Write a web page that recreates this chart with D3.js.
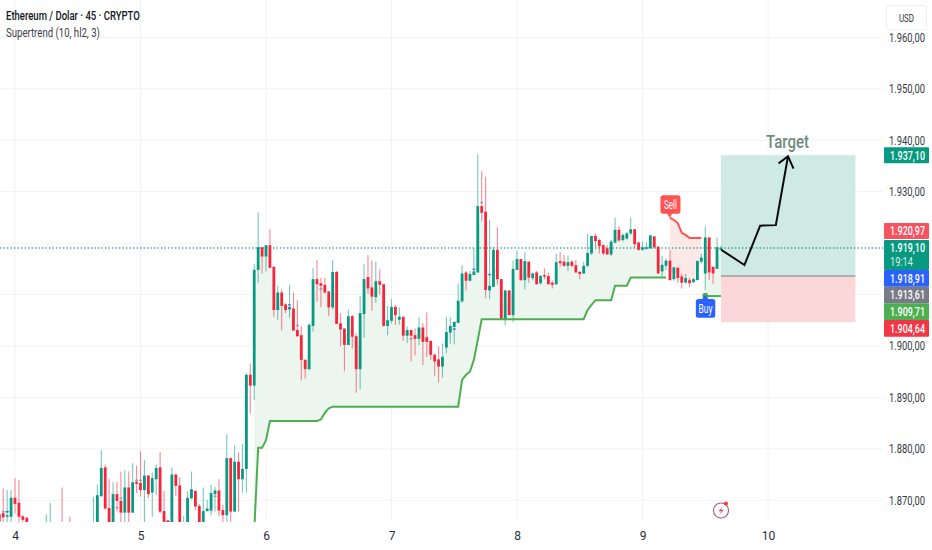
<!DOCTYPE html>
<html><head><meta charset="utf-8">
<script src="https://cdn.jsdelivr.net/npm/d3@7/dist/d3.min.js"></script>
<style>html,body{margin:0;padding:0;background:#fff}svg{display:block}text{font-family:Roboto,"Liberation Sans",sans-serif}</style>
</head><body><div id="c"></div>
<script>
const firstBar = -4;
const opens = [1867.3,1867.5,1866.8,1866.8,1870.5,1869.5,1866.9,1866.6,1863,1862,
1861,1862,1862,1862,1864,1862,1864,1862,1864,1862,
1861,1862,1860.5,1862,
1862,1864,1870.8,1876.4,1868.5,1864,1871.2,1869.9,1867.6,1872.5,
1867.6,1873.6,1873.4,1872,1874.8,1871.5,1874.1,1876.4,1867.9,1866.1,
1864,1875,1872.9,1864,1864,1870.4,1871.8,1868.9,1864,1867.9,
1868,1871.2,1871.9,1868.1,1867.1,1878.2,1867.8,1877.5,1874.1,1876.1,
1894.4,1892.3,1914.8,1919.2,1917.4,1919.6,1915.4,1907,1910.4,1908.1,
1907.1,1907.3,1903.1,1902.1,1897.3,1895.5,1903.9,1913,1912.2,1911.9,
1910.6,1907.5,1914.4,1904.4,1903.4,1900.2,1905.8,1901.9,1895.5,1906.2,
1913.4,1911.4,1909.5,1912.6,1912,1903.9,1904.9,1907.6,1905.1,1905.7,
1902,1903.1,1902.1,1901.4,1903.6,1901.7,1901,1898.3,1897.4,1896,
1899.7,1902.6,1903.7,1904.5,1908.7,1914.3,1912.7,1913.8,1914.3,1927.2,
1926.1,1910.8,1911.5,1918.7,1913,1905.1,1910.8,1906,1914.8,1916.9,
1912.8,1916.4,1913.2,1914.3,1912.2,1913.8,1913.6,1912.3,1912,1916.5,
1916.4,1915.6,1916.4,1915.7,1914.4,1914.1,1915.6,1918,1921.4,1920.6,
1919.6,1919,1917.8,1920.1,1922.6,1920.6,1920.9,1921.9,1922.7,1920.1,
1918.7,1918.9,1919,1921.3,1919.3,1914.5,1915.6,1916.6,1913,1915.2,
1913.5,1912.3,1912.8,1912.4,1912.8,1916.4,1914.1,1921.1,1915.4,1915,
1918.7];
const closes = [1865.9,1866.7,1867.1,1870.5,1869.3,1866.8,1866.2,1865.6,1862,1861,
1862,1863,1864,1864,1862,1861,1862,1863,1862,1861,
1862,1860.5,1862,1863,
1864.5,1871,1876.3,1868.4,1865,1871.2,1869.9,1867.6,1872.5,1867.6,
1873.5,1873.2,1872,1874.8,1871.2,1874.3,1876.3,1867.8,1865.8,1864.5,
1875,1872.8,1864,1865.8,1870.5,1872,1868.8,1864,1867.9,1868.4,
1871.4,1871.9,1868,1867.1,1878.2,1867.8,1877.5,1874.1,1876.1,1894.4,
1892.3,1914.8,1919.2,1917.4,1919.6,1915.2,1907,1910.4,1907.8,1907,
1907.6,1903,1901.9,1897.3,1895.5,1904.1,1913,1912,1911.7,1910.4,
1907.5,1914.4,1904.3,1903.2,1900.2,1905.8,1901.8,1895.5,1906.4,1913,
1911.2,1909.6,1912.6,1911.9,1903.9,1905,1907.6,1906,1905.7,1902,
1903.1,1902,1901.4,1903.6,1900.8,1900.8,1898.3,1897,1896,1897.9,
1902.7,1903.9,1904.7,1908.8,1914.1,1912.7,1914,1914.5,1927.2,1925.9,
1910.9,1911.7,1918.7,1913,1905.1,1910.8,1906,1915,1916.9,1912.8,
1916.5,1913.3,1914.1,1912,1913.6,1913.5,1912,1911.9,1916.3,1916.1,
1915.6,1916.3,1915.6,1914.3,1914,1915.6,1918.1,1921.4,1920.4,1919.4,
1918,1917.8,1920.3,1922.6,1920.5,1921.6,1921.9,1922.7,1919.8,1918.7,
1919.2,1919.2,1921.5,1919.2,1914.1,1915.8,1916.6,1912.8,1915.3,1913.2,
1912.3,1913.2,1912.2,1913,1916.5,1917.2,1921.1,1914.3,1914.1,1919.2,
1919.1];
const highs = [1868.1,1872.3,1872,1872,1874.3,1873.9,1867.1,1866.8,1864,1863.5,
1863,1864,1867.3,1869.5,1865,1864,1872.5,1864,1866.8,1864,
1863,1864,1863,1864,
1870.7,1873,1879.8,1876.9,1874.1,1873.5,1873.6,1875.6,1875.9,1875.6,
1877.2,1876.7,1879.5,1877.8,1874.9,1875.4,1876.9,1879.4,1871.8,1866.2,
1876.4,1875.2,1874.5,1866.9,1871.7,1875.6,1872,1869.3,1872.5,1870.1,
1873,1872.6,1874.1,1869.1,1882.8,1878.3,1880.7,1879.3,1880.9,1894.7,
1896.6,1916,1926,1919.2,1919.6,1922.7,1915.4,1911.7,1911,1908.3,
1911.9,1910.4,1908.9,1903.9,1897.4,1904.4,1915.1,1916.7,1913.2,1913.2,
1910.7,1916.7,1914.6,1906.4,1903.4,1907.1,1906,1902.5,1909.7,1916,
1917.7,1916.6,1916.4,1914.9,1912,1907.8,1909.1,1908,1907.5,1905.7,
1903.8,1903.2,1903.4,1905.6,1904.4,1906.5,1901,1898.6,1899.9,1900.5,
1905.6,1905.6,1904.7,1912.2,1915.7,1914.6,1914.6,1919,1937.3,1934,
1932.9,1924.5,1919.2,1923.1,1913,1910.9,1910.8,1916.6,1918.5,1916.9,
1918.3,1916.4,1914.3,1914.6,1913.8,1915.1,1914.3,1912.8,1918,1918.3,
1917.8,1917.6,1916.7,1916.7,1914.6,1916.4,1921.8,1921.4,1921.9,1920.9,
1919.8,1919.6,1920.6,1925,1923.3,1921.9,1922.2,1925,1922.7,1920.3,
1920.3,1920.1,1921.6,1921.4,1919.4,1917.5,1917,1918.7,1915.4,1915.3,
1914.1,1914,1913.2,1913.2,1916.7,1918,1923.3,1921.1,1915.4,1921.1,
1919.5];
const lows = [1863,1862,1862,1864,1867.5,1864,1864,1863,1861,1860,
1860,1861,1861,1861,1861,1860,1861,1860,1861,1860,
1859,1860,1859,1860,
1861,1863,1870.7,1868.2,1864,1863,1867.8,1864,1864,1864,
1867.6,1871.4,1870.7,1864,1870.4,1866.8,1871,1867.5,1864,1863.5,
1863,1870.8,1863,1863,1863,1870.2,1868,1863,1863,1867.8,
1867.1,1867.8,1866.9,1864,1865.9,1864,1867.8,1867.8,1871.5,1871.5,
1886.9,1889.5,1912.3,1914.1,1914.5,1915.1,1905.7,1905,1903,1906.4,
1905.5,1903,1901.8,1893.3,1893.7,1895.3,1902.8,1908.6,1907.6,1910.2,
1905.8,1907.1,1904.3,1899.9,1895.1,1900.2,1899.5,1890.9,1891.6,1901.6,
1910.1,1906.8,1908.4,1910,1903.8,1902.1,1904.4,1904.1,1904.2,1901,
1900.6,1897,1898.2,1900.2,1896.3,1897.9,1897.3,1894.2,1892.9,1893.8,
1898.6,1900.5,1900.3,1904.5,1908.4,1910.8,1912.6,1913.8,1914.3,1924.2,
1909.3,1909.1,1911.5,1911.9,1905,1904,1906,1904.6,1914.8,1912.7,
1911,1912.3,1912.8,1912,1911.9,1913,1912,1911.2,1912,1915.4,
1915.4,1914.6,1915.3,1914.3,1913,1914,1915.3,1917.7,1919.3,1918,
1917.7,1917.7,1917.5,1920,1920.3,1920.3,1920.6,1921.6,1919,1918.5,
1918.5,1918.7,1918.9,1919,1914.1,1913.5,1914.8,1912.8,1912.7,1912.3,
1911.2,1912.2,1911.4,1912.3,1912.8,1916.1,1910.9,1912.8,1912.1,1915,
1918.5];

// Supertrend (10, hl2, 3), bar by bar
const upTrendStart = 61;
const upTrend = [1864,1880.2,1880.2,1881.7,1885.4,
1885.4,1885.4,1885.4,1885.4,1885.4,1885.4,1885.4,1885.4,1885.4,1885.4,1885.4,1885.4,
1885.7,1887,1887.9,
1888.2,1888.2,1888.2,1888.2,1888.2,1888.2,1888.2,1888.2,1888.2,1888.2,1888.2,
1888.2,1888.2,1888.2,1888.2,1888.2,1888.2,1888.2,1888.2,1888.2,1888.2,1888.2,
1888.2,1888.2,1888.2,1888.2,1888.2,1888.2,1888.2,1888.2,1888.2,1888.2,1888.2,
1893.4,1894.4,1895,1897.3,1901.2,
1905.2,1905.2,1905.2,1905.2,1905.2,1905.2,1905.2,1905.2,1905.2,1905.2,1905.2,1905.2,1905.2,1905.2,
1905.2,1905.2,1905.2,1905.2,1905.2,1905.2,1905.2,1905.2,1905.2,1905.2,1905.2,1905.2,1905.2,
1907,1908,1908.9,1908.9,1908.9,1908.9,1908.9,1911.7,1911.7,1911.7,1911.7,
1913.3,1913.3,1913.3,1913.3,1913.3,1913.3,1913.3,1913.3,1913.3,1913.3];
const downTrendStart = 167;
const downTrend = [1924.9,1924.5,1923.9,1922,1921.6,1921,1921,1921,1921];
const upTrend2Start = 176;
const upTrend2 = [1909.71,1909.71,1909.71,1909.71,1909.71];

const gridPrices = [1960,1950,1940,1930,1920,1910,1900,1890,1880,1870];
const priceLabels = [1960,1950,1940,1930,1900,1890,1880,1870];
const dayBars = [0,32,64,96,128,160,192];
const dayLabels = ["4","5","6","7","8","9","10"];

const tagTexts = ["1.937,10","1.920,97","1.919,10","1.918,91","1.913,61","1.909,71","1.904,64"];
const tagColors = ["#089981","#f7525f","#089981","#2962ff","#787b86","#4caf50","#f23645"];
const tagTops = [147.3,223,240,270,286.7,303.3,320];
const tagHeights = [16,16,30,16.7,16.6,16.7,16.7];

const lastPrice = 1919.10;
const targetPrice = 1937.10, entryPrice = 1913.61, stopPrice = 1904.64;
const toolBars = [180, 214.3];
const arrowBars = [180.1,186,190,194,197.1];
const arrowPrices = [1918.7,1915.75,1923.4,1923.5,1936.9];
const headBars = [194.7,197.1,198.5];
const headPrices = [1935.5,1936.9,1934.5];

const greyBars = [-3,-2,26,27,31,32,51,72,78,101,105,119];
const greyPrices = [1867.8,1867.8,1868.6,1870.4,1873.9,1873.9,1870.8,1904,1911.1,1901.4,1901.7,1927.9];
const blueBars = [-2,45,70,112,117,121];
const bluePrices = [1867.8,1872,1908,1903.3,1914.9,1913.9];

const W=932,H=550,plotR=883,plotB=522;
const up="#089981",down="#f7253c";
const x=d3.scaleLinear().domain([0,192]).range([15,768]);
const y=d3.scaleLinear().domain([1960,1870]).range([37.4,500.3]);

// squeeze a text horizontally to a given width (the original face is narrow)
function squeeze(sel,px,py,width){
 sel.each(function(){
  const n=this.getComputedTextLength();
  d3.select(this).attr("x",0).attr("y",0).attr("transform",`translate(${px},${py}) scale(${width/n},1)`);
 });
 return sel;
}

const svg=d3.select("#c").append("svg").attr("width",W).attr("height",H);
svg.append("defs").append("clipPath").attr("id","plot").append("rect").attr("width",plotR).attr("height",plotB);
const g=svg.append("g").attr("clip-path","url(#plot)");

// grid
g.append("g").selectAll("line").data(gridPrices).join("line")
 .attr("x1",0).attr("x2",plotR).attr("y1",d=>y(d)).attr("y2",d=>y(d)).attr("stroke","#f1f2f4");
g.append("g").selectAll("line").data(dayBars).join("line")
 .attr("x1",d=>x(d)).attr("x2",d=>x(d)).attr("y1",0).attr("y2",plotB).attr("stroke","#f1f2f4");

const bars=opens.map((o,k)=>({i:k+firstBar,o,h:highs[k],l:lows[k],c:closes[k]}));
const byBar=new Map(bars.map(b=>[b.i,b]));
const mid=i=>{const b=byBar.get(i);return (b.o+b.c)/2;};
const series=(start,vals)=>vals.map((v,k)=>({i:start+k,v}));
const area=d3.area().x(d=>x(d.i)).y0(d=>y(d.v)).y1(d=>y(mid(d.i)));
const line=d3.line().x(d=>x(d.i)).y(d=>y(d.v));
const up1=series(upTrendStart,upTrend),dn=series(downTrendStart,downTrend),up2=series(upTrend2Start,upTrend2);
g.append("path").attr("d",area(up1)).attr("fill","#ecf6ee");
g.append("path").attr("d",area(dn)).attr("fill","#fde8e8");
g.append("path").attr("d",area(up2)).attr("fill","#ecf6ee");

// position tool
const tx0=x(toolBars[0]),tx1=x(toolBars[1]);
g.append("rect").attr("x",tx0).attr("width",tx1-tx0).attr("y",y(targetPrice)).attr("height",y(entryPrice)-y(targetPrice)).attr("fill","#cfeae4");
g.append("rect").attr("x",tx0).attr("width",tx1-tx0).attr("y",y(entryPrice)).attr("height",y(stopPrice)-y(entryPrice)).attr("fill","#fbd7d9");
g.append("line").attr("x1",tx0).attr("x2",tx1).attr("y1",y(entryPrice)).attr("y2",y(entryPrice)).attr("stroke","#787b86").attr("stroke-width",1);

// last price line
g.append("line").attr("x1",0).attr("x2",plotR).attr("y1",y(lastPrice)+.3).attr("y2",y(lastPrice)+.3)
 .attr("stroke",up).attr("stroke-opacity",.8).attr("stroke-width",1.4).attr("stroke-dasharray","1.4 2.1");

// candles
const col=d=>d.c>=d.o?up:down;
const cg=g.append("g");
cg.selectAll("line").data(bars).join("line")
 .attr("x1",d=>x(d.i)).attr("x2",d=>x(d.i)).attr("y1",d=>y(d.h)).attr("y2",d=>y(d.l))
 .attr("stroke",col).attr("stroke-opacity",.55).attr("stroke-width",1.1);
cg.selectAll("rect").data(bars).join("rect")
 .attr("x",d=>x(d.i)-1.4).attr("width",2.8)
 .attr("y",d=>y(Math.max(d.o,d.c))).attr("height",d=>Math.max(1,Math.abs(y(d.o)-y(d.c))))
 .attr("fill",col);
// tiny marks
g.append("g").selectAll("rect").data(greyBars).join("rect")
 .attr("x",d=>x(d)-1.5).attr("width",3).attr("height",1.5).attr("y",(d,k)=>y(greyPrices[k])-.7).attr("fill","#7f8fa0").attr("opacity",.8);
g.append("g").selectAll("rect").data(blueBars).join("rect")
 .attr("x",d=>x(d)-1.5).attr("width",3).attr("height",1.5).attr("y",(d,k)=>y(bluePrices[k])-.7).attr("fill","#2962ff").attr("opacity",.8);

// supertrend
[[up1,"#4caf50"],[dn,"#ff5252"],[up2,"#4caf50"]].forEach(([s,c])=>
 g.append("path").attr("d",line(s)).attr("fill","none").attr("stroke",c).attr("stroke-width",2));

// signals
const sx=x(downTrendStart),sy=y(downTrend[0]);
g.append("path").attr("d",`M${sx-4},${sy-6}L${sx},${sy}L${sx+3},${sy-6}Z`).attr("fill","#ff5252");
g.append("rect").attr("x",sx-9.5).attr("y",sy-22.7).attr("width",20).attr("height",18.5).attr("rx",2.5).attr("fill","#ff5252");
squeeze(g.append("text").attr("fill","#fff").attr("font-size",12).text("Sell"),sx-6,sy-9,13);
const bx=x(upTrend2Start),by=y(upTrend2[0]);
g.append("circle").attr("cx",bx).attr("cy",by-.5).attr("r",2.9).attr("fill","#4caf50");
g.append("path").attr("d",`M${bx-4},${by+4}L${bx},${by-1}L${bx+4},${by+4}Z`).attr("fill","#2962ff");
g.append("rect").attr("x",bx-9.4).attr("y",by+3).attr("width",19.4).attr("height",18.7).attr("rx",2.5).attr("fill","#2962ff");
squeeze(g.append("text").attr("fill","#fff").attr("font-size",12).text("Buy"),bx-6.7,by+16.5,14);

// target arrow
const al=d3.line().x(d=>x(d[0])).y(d=>y(d[1]));
g.append("path").attr("d",al(arrowBars.map((b,k)=>[b,arrowPrices[k]]))).attr("fill","none").attr("stroke","#0b0b0b").attr("stroke-width",2);
g.append("path").attr("d",al(headBars.map((b,k)=>[b,headPrices[k]]))).attr("fill","none").attr("stroke","#0b0b0b").attr("stroke-width",2);
squeeze(g.append("text").attr("fill","#6f8a80").attr("font-size",18).attr("font-weight",500).text("Target"),x(197)-21.5,y(1938.4),43);

// flash icon
const ic=svg.append("g").attr("transform","translate(721,510.5)");
ic.append("circle").attr("r",7.5).attr("fill","#fff").attr("stroke","#b9566a").attr("stroke-width",1.1);
ic.append("path").attr("d","M1.8,-4.2L-2.6,0.8H0.4L-1.4,4.4L2.8,-0.8H-0.2Z").attr("fill","#b9566a");
ic.append("circle").attr("cx",5).attr("cy",-7).attr("r",2).attr("fill","#f23645");

// axes
const fmt=d3.formatLocale({decimal:",",thousands:".",grouping:[3],currency:["",""]}).format(",.2f");
const ya=svg.append("g").attr("transform","translate(889,0)").call(d3.axisRight(y).tickValues(priceLabels).tickSize(0).tickPadding(0).tickFormat(fmt));
ya.select(".domain").remove();
ya.selectAll("text").attr("font-size",12).attr("fill","#363a45").attr("font-family",null)
 .each(function(){const n=this.getComputedTextLength();d3.select(this).attr("x",0).attr("transform",`scale(${36/n},1)`);});
const xa=svg.append("g").attr("transform",`translate(0,${plotB})`).call(d3.axisBottom(x).tickValues(dayBars).tickSize(0).tickPadding(9).tickFormat((d,k)=>dayLabels[k]));
xa.select(".domain").remove();
xa.selectAll("text").attr("font-size",12).attr("fill","#2a2e39").attr("font-family",null);

// price tags
const tags=svg.append("g");
tagTexts.forEach((t,k)=>{
 tags.append("rect").attr("x",884).attr("y",tagTops[k]).attr("width",45).attr("height",tagHeights[k]).attr("rx",1).attr("fill",tagColors[k]);
 const one=k!==2;
 squeeze(tags.append("text").attr("fill","#fff").attr("font-size",12).attr("font-weight",500).text(t),890,tagTops[k]+(one?tagHeights[k]/2+4.2:12),35);
});
squeeze(tags.append("text").attr("fill","#fff").attr("fill-opacity",.85).attr("font-size",12).text("19:14"),890,tagTops[2]+25.5,23);

// USD button
svg.append("rect").attr("x",886.5).attr("y",5.5).attr("width",40).attr("height",24.5).attr("rx",3).attr("fill","#fff").attr("stroke","#eceef2");
squeeze(svg.append("text").attr("fill","#2a2e39").attr("font-size",11).text("USD"),899,21.5,15);

// legend
squeeze(svg.append("text").attr("fill","#131722").attr("font-size",13).attr("font-weight",500).text("Ethereum / Dolar · 45 · CRYPTO"),6,20,134);
squeeze(svg.append("text").attr("fill","#3c404b").attr("font-size",13).text("Supertrend (10, hl2, 3)"),6,37,94);
</script></body></html>
